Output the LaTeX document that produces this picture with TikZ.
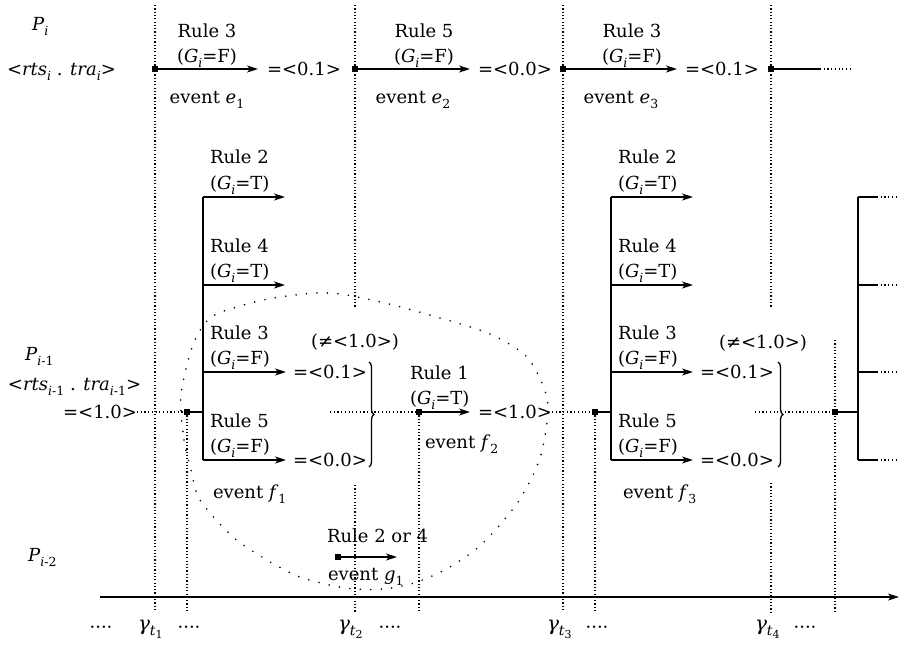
\documentclass[tikz,border=0pt]{standalone}
\usepackage{fontspec}
\setmainfont{DejaVu Serif}
\usetikzlibrary{arrows.meta,decorations.pathreplacing}
% subscripts sized for the 18pt labels
\newcommand\sbx[1]{\raisebox{-0.28em}{\fontsize{12.5}{13}\selectfont #1}}
\newcommand\guard[1]{(\textit{G}\sbx{\textit{i}}=#1)}
\newcommand\tstamp[1]{{\fontsize{20}{22}\selectfont\textit{γ}}\raisebox{-0.3em}{\fontsize{14}{15}\selectfont\textit{t}\raisebox{-0.25em}{\fontsize{11}{12}\selectfont #1}}}
\begin{document}
\begin{tikzpicture}[x=1pt,y=-1pt,
  lbl/.style={inner sep=0pt,outer sep=0pt,font=\fontsize{18}{21}\selectfont},
  evt/.style={fill=black,draw=none,rectangle,minimum size=6.5pt,inner sep=0pt,outer sep=0pt},
  guide/.style={line width=1.2pt,dash pattern=on 1.2pt off 2.1pt},
  trail/.style={line width=1.2pt,dash pattern=on 1.2pt off 2.5pt},
  flow/.style={line width=1.3pt},
  arr/.style={flow,-{Stealth[length=11pt,width=7pt,inset=3pt]}},
  ring/.style={line width=1.8pt,dash pattern=on 0pt off 10.5pt,line cap=round},
  curly/.style={flow,decorate,decoration={brace,amplitude=5pt}}]
\useasboundingbox (0,0) rectangle (899,648);

% time guides
\foreach \x/\a/\b in {155/5/612, 187/412/612, 355/5/308, 355/485/612,
    419/412/612, 563/5/612, 595/412/612, 771/5/308, 771/483/612, 835/340/612}
  \draw[guide] (\x,\a) -- (\x,\b);

% loose dotted region around the first cascade
\draw[ring] plot[smooth cycle] coordinates {(181,395) (184,440) (191,470) (200,500)
  (233,537) (267,560) (300,577) (345,588) (383,589) (417,582) (450,567) (483,543)
  (518,502) (540,458) (548,410) (542,383) (525,355) (490,334) (447,320) (385,303)
  (330,293) (280,297) (240,306) (210,318) (193,345)};

% time axis
\coordinate (ax0) at (100,597);
\coordinate (ax1) at (899,597);
\draw[arr] (ax0) -- (ax1);

% ---------------- process P_i ----------------
\node[lbl,anchor=base west] (pi) at (32,30) {\textit{P}\sbx{\textit{i}}};
\node[lbl,anchor=base west] (si) at (7,75) {<\textit{rts}\sbx{\textit{i}} . \textit{tra}\sbx{\textit{i}}>};

\node[evt] (e1) at (155,69) {};
\coordinate (e1t) at (258,69);
\draw[arr] (e1) -- (e1t);
\node[lbl,anchor=base] (e1r) at (207,37) {Rule 3};
\node[lbl,anchor=base] (e1g) at (207,62) {\guard{F}};
\node[lbl,anchor=base] (e1n) at (207,103) {event \textit{e}\sbx{1}};
\node[lbl] (e1v) at (304,69) {=<0.1>};

\node[evt] (e2) at (355,69) {};
\coordinate (e2t) at (470,69);
\draw[arr] (e2) -- (e2t);
\node[lbl,anchor=base] (e2r) at (424,37) {Rule 5};
\node[lbl,anchor=base] (e2g) at (424,62) {\guard{F}};
\node[lbl,anchor=base] (e2n) at (413,103) {event \textit{e}\sbx{2}};
\node[lbl] (e2v) at (515,69) {=<0.0>};

\node[evt] (e3) at (563,69) {};
\coordinate (e3t) at (677,69);
\draw[arr] (e3) -- (e3t);
\node[lbl,anchor=base] (e3r) at (632,37) {Rule 3};
\node[lbl,anchor=base] (e3g) at (632,62) {\guard{F}};
\node[lbl,anchor=base] (e3n) at (621,103) {event \textit{e}\sbx{3}};
\node[lbl] (e3v) at (722,69) {=<0.1>};

\node[evt] (e4) at (771,69) {};
\coordinate (e4a) at (820,69);
\coordinate (e4b) at (850,69);
\draw[flow] (e4) -- (e4a);
\draw[trail] (e4a) -- (e4b);

% ---------------- process P_{i-1} ----------------
\node[lbl,anchor=base west] (pm) at (25,360) {\textit{P}\sbx{\textit{i}-1}};
\node[lbl,anchor=base west] (sm) at (8,390) {<\textit{rts}\sbx{\textit{i}-1} . \textit{tra}\sbx{\textit{i}-1}>};
\node[lbl,anchor=east] (v0) at (137,412) {=<1.0>};

% cascade f1
\node[evt] (f1) at (187,412) {};
\draw[trail] (v0.east) -- (f1);
\coordinate (j1) at (203,412);
\coordinate (j1a) at (203,197);
\coordinate (j1b) at (203,285);
\coordinate (j1c) at (203,372);
\coordinate (j1d) at (203,460);
\coordinate (k1a) at (285,197);
\coordinate (k1b) at (285,285);
\coordinate (k1c) at (286,372);
\coordinate (k1d) at (286,460);
\draw[flow] (f1) -- (j1);
\draw[flow] (j1a) -- (j1d);
\draw[arr] (j1a) -- (k1a);
\draw[arr] (j1b) -- (k1b);
\draw[arr] (j1c) -- (k1c);
\draw[arr] (j1d) -- (k1d);
\node[lbl,anchor=base west] (f1r2) at (210,163) {Rule 2};
\node[lbl,anchor=base west] (f1g2) at (210,189) {\guard{T}};
\node[lbl,anchor=base west] (f1r4) at (210,252) {Rule 4};
\node[lbl,anchor=base west] (f1g4) at (210,277) {\guard{T}};
\node[lbl,anchor=base west] (f1r3) at (210,339) {Rule 3};
\node[lbl,anchor=base west] (f1g3) at (210,364) {\guard{F}};
\node[lbl,anchor=base west] (f1r5) at (210,427) {Rule 5};
\node[lbl,anchor=base west] (f1g5) at (210,452) {\guard{F}};
\node[lbl,anchor=base west] (f1n) at (213,498) {event \textit{f}\sbx{1}};
\node[lbl] (f1v1) at (330,372) {=<0.1>};
\node[lbl] (f1v2) at (330,460) {=<0.0>};
\node[lbl] (f1x) at (355,342) {(≠<1.0>)};
\coordinate (b1a) at (369,362);
\coordinate (b1b) at (369,467);
\draw[curly] (b1a) -- (b1b);
\coordinate (m1) at (330,412);

% event f2
\node[evt] (f2) at (419,412) {};
\draw[trail] (m1) -- (f2);
\coordinate (f2t) at (470,412);
\draw[arr] (f2) -- (f2t);
\node[lbl,anchor=base west] (f2r) at (410,379) {Rule 1};
\node[lbl,anchor=base west] (f2g) at (410,404) {\guard{T}};
\node[lbl,anchor=base west] (f2n) at (425,448) {event \textit{f}\sbx{2}};
\node[lbl] (f2v) at (515,412) {=<1.0>};

% cascade f3
\node[evt] (f3) at (595,412) {};
\draw[trail] (f2v.east) -- (f3);
\coordinate (j3) at (611,412);
\coordinate (j3a) at (611,197);
\coordinate (j3b) at (611,285);
\coordinate (j3c) at (611,372);
\coordinate (j3d) at (611,460);
\coordinate (k3a) at (693,197);
\coordinate (k3b) at (693,285);
\coordinate (k3c) at (693,372);
\coordinate (k3d) at (693,460);
\draw[flow] (f3) -- (j3);
\draw[flow] (j3a) -- (j3d);
\draw[arr] (j3a) -- (k3a);
\draw[arr] (j3b) -- (k3b);
\draw[arr] (j3c) -- (k3c);
\draw[arr] (j3d) -- (k3d);
\node[lbl,anchor=base west] (f3r2) at (618,163) {Rule 2};
\node[lbl,anchor=base west] (f3g2) at (618,189) {\guard{T}};
\node[lbl,anchor=base west] (f3r4) at (618,252) {Rule 4};
\node[lbl,anchor=base west] (f3g4) at (618,277) {\guard{T}};
\node[lbl,anchor=base west] (f3r3) at (618,339) {Rule 3};
\node[lbl,anchor=base west] (f3g3) at (618,364) {\guard{F}};
\node[lbl,anchor=base west] (f3r5) at (618,427) {Rule 5};
\node[lbl,anchor=base west] (f3g5) at (618,452) {\guard{F}};
\node[lbl,anchor=base west] (f3n) at (623,498) {event \textit{f}\sbx{3}};
\node[lbl] (f3v1) at (737,372) {=<0.1>};
\node[lbl] (f3v2) at (737,460) {=<0.0>};
\node[lbl] (f3x) at (763,343) {(≠<1.0>)};
\coordinate (b3a) at (778,362);
\coordinate (b3b) at (778,467);
\draw[curly] (b3a) -- (b3b);
\coordinate (m3) at (755,412);

% cascade f4 (continues off to the right)
\node[evt] (f4) at (835,412) {};
\draw[trail] (m3) -- (f4);
\coordinate (j4) at (858,412);
\coordinate (j4a) at (858,197);
\coordinate (j4d) at (858,460);
\draw[flow] (f4) -- (j4);
\draw[flow] (j4a) -- (j4d);
\foreach \y [count=\n] in {197,285,372,460} {
  \coordinate (s4\n) at (858,\y);
  \coordinate (u4\n) at (877,\y);
  \coordinate (w4\n) at (898,\y);
  \draw[flow] (s4\n) -- (u4\n);
  \draw[trail] (u4\n) -- (w4\n);
}

% ---------------- process P_{i-2} ----------------
\node[lbl,anchor=base west] (pl) at (28,561) {\textit{P}\sbx{\textit{i}-2}};
\node[evt] (g1) at (338,557) {};
\coordinate (g1t) at (397,557);
\draw[arr] (g1) -- (g1t);
\node[lbl,anchor=base west] (g1r) at (327,542) {Rule 2 or 4};
\node[lbl,anchor=base west] (g1n) at (328,580) {event \textit{g}\sbx{1}};

% ---------------- time stamps ----------------
\node[lbl,anchor=base] (d0) at (101,633) {····};
\node[lbl,anchor=base west] (t1) at (138,630) {\tstamp{1}};
\node[lbl,anchor=base] (d1) at (189,633) {····};
\node[lbl,anchor=base west] (t2) at (338,630) {\tstamp{2}};
\node[lbl,anchor=base] (d2) at (390,633) {····};
\node[lbl,anchor=base west] (t3) at (547,630) {\tstamp{3}};
\node[lbl,anchor=base] (d3) at (597,633) {····};
\node[lbl,anchor=base west] (t4) at (755,630) {\tstamp{4}};
\node[lbl,anchor=base] (d4) at (805,633) {····};
\end{tikzpicture}
\end{document}
